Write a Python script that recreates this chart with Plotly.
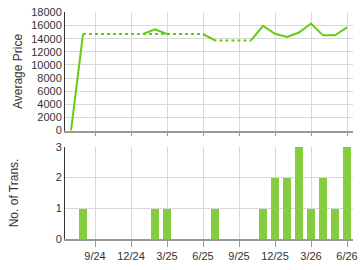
import plotly.graph_objects as go
from plotly.subplots import make_subplots

months = ["7/24","8/24","9/24","10/24","11/24","12/24","1/25","2/25","3/25","4/25","5/25","6/25",
          "7/25","8/25","9/25","10/25","11/25","12/25","1/26","2/26","3/26","4/26","5/26","6/26"]
price = [0, 14700, None, None, None, None, 14700, 15430, 14700, None, None, 14700,
         13730, None, None, 13730, 15950, 14750, 14260, 14930, 16300, 14500, 14500, 15720]
trans = [0, 1, 0, 0, 0, 0, 0, 1, 1, 0, 0, 0,
         1, 0, 0, 0, 1, 2, 2, 3, 1, 2, 1, 3]
tick_labels = ["9/24", "12/24", "3/25", "6/25", "9/25", "12/25", "3/26", "6/26"]
price_ticks = list(range(0, 18001, 2000))
trans_ticks = [0, 1, 2, 3]

# dotted segments bridging the gaps
dotted = [None] * len(price)
for i in range(len(price)):
    if price[i] is not None:
        prev_gap = i > 0 and price[i - 1] is None
        next_gap = i < len(price) - 1 and price[i + 1] is None
        if prev_gap or next_gap:
            dotted[i] = price[i]
dotted_x = [m for m, v in zip(months, dotted) if v is not None]
dotted_y = [v for v in dotted if v is not None]

fig = make_subplots(rows=2, cols=1, shared_xaxes=False, vertical_spacing=0.0)
green = "#66cc11"
fig.add_trace(go.Scatter(x=dotted_x, y=dotted_y, mode="lines",
                         line=dict(color=green, width=2, dash="dot"),
                         hoverinfo="skip", showlegend=False), row=1, col=1)
fig.add_trace(go.Scatter(x=months, y=price, mode="lines", connectgaps=False,
                         line=dict(color=green, width=2), showlegend=False), row=1, col=1)
fig.add_trace(go.Bar(x=months, y=trans, width=0.62,
                     marker=dict(color="#86cc40", line=dict(width=0)),
                     showlegend=False), row=2, col=1)

H = 270.0
fig.update_layout(
    width=360, height=270, margin=dict(l=65, r=7, t=0, b=0),
    paper_bgcolor="white", plot_bgcolor="white",
    font=dict(family="Liberation Sans, Arial, sans-serif", size=11, color="#333333"),
    bargap=0,
)
common_x = dict(type="category", categoryorder="array", categoryarray=months,
                range=[-0.5, 23.5], tickvals=tick_labels, ticktext=tick_labels,
                showgrid=True, gridcolor="#d8d8d8", gridwidth=1,
                showline=True, linecolor="#999999", linewidth=2,
                ticks="outside", tickcolor="#999999", zeroline=False)
fig.update_xaxes(**common_x, ticklen=3, showticklabels=False, row=1, col=1)
fig.update_xaxes(**common_x, ticklen=6, showticklabels=True,
                 tickfont=dict(size=11, color="#333333"), row=2, col=1)

fig.update_yaxes(range=[0, 18000], tickvals=price_ticks, ticktext=[str(v) for v in price_ticks],
                 showgrid=True, gridcolor="#d8d8d8",
                 showline=True, linecolor="#333333", linewidth=1, zeroline=False,
                 title=dict(text="Average Price", font=dict(size=12, color="#333333"), standoff=6),
                 tickfont=dict(size=11, color="#333333"),
                 domain=[1 - 130.3 / H, 1 - 6.7 / H], row=1, col=1)
fig.update_yaxes(range=[0, 3], tickvals=trans_ticks, ticktext=[str(v) for v in trans_ticks],
                 showgrid=True, gridcolor="#d8d8d8",
                 showline=True, linecolor="#333333", linewidth=1, zeroline=False,
                 title=dict(text="No. of Trans.", font=dict(size=12, color="#333333"), standoff=34),
                 tickfont=dict(size=11, color="#333333"),
                 domain=[1 - 244.0 / H, 1 - 147.3 / H], row=2, col=1)

fig.write_html("out.html")
